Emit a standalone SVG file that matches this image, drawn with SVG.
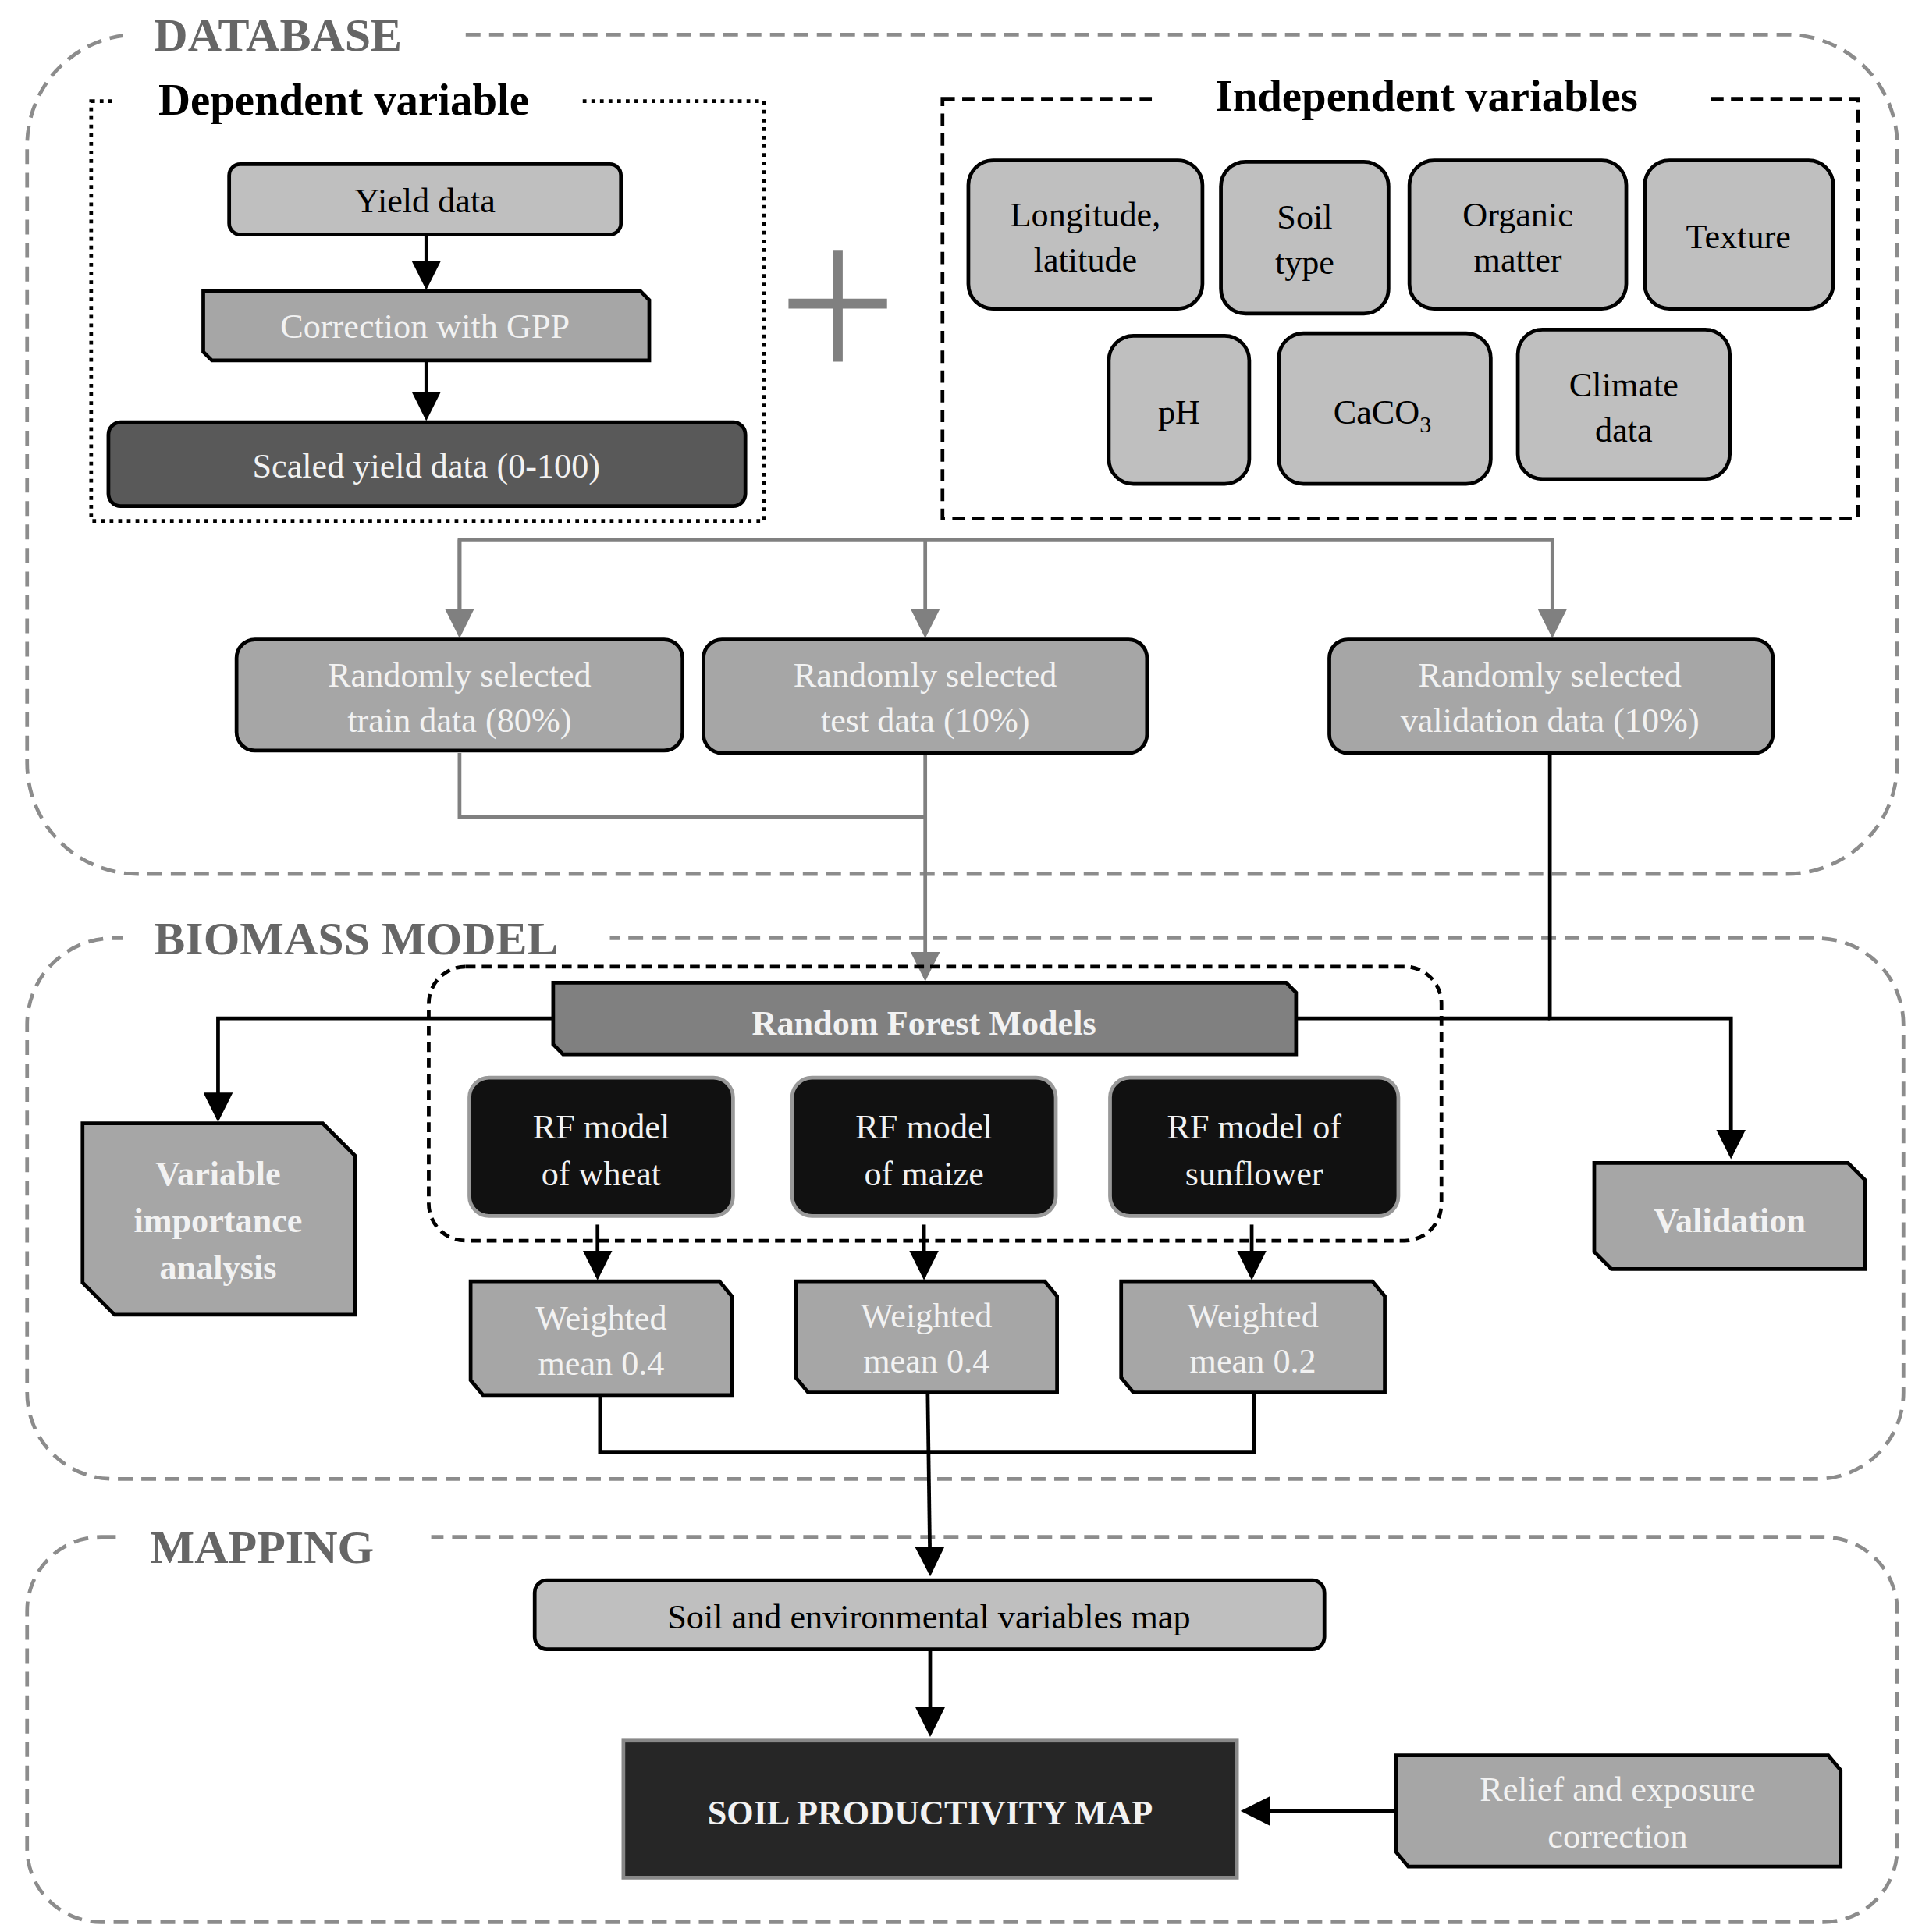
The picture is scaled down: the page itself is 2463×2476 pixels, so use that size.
<svg xmlns="http://www.w3.org/2000/svg" width="2463" height="2476" viewBox="0 0 2463 2476">
<defs>
<style>
text{font-family:"Liberation Serif",serif;text-anchor:middle}
.t{font-size:28px}
.w{fill:#f2f2f2}
.b{font-weight:bold}
.frame{fill:none;stroke:#8c8c8c;stroke-width:3;stroke-dasharray:12 7}
.ttl{font-size:38px;font-weight:bold;fill:#666;text-anchor:start}
.n{stroke:#000;stroke-width:3}
.lg{fill:#bfbfbf}.md{fill:#a6a6a6}
.gl{fill:none;stroke:#808080;stroke-width:3}
.bl{fill:none;stroke:#000;stroke-width:3}
</style>
<marker id="ag" markerWidth="8" markerHeight="8" refX="7" refY="4" orient="auto" markerUnits="strokeWidth"><path d="M0,0L8,4L0,8z" fill="#808080"/></marker>
<marker id="ab" markerWidth="8" markerHeight="8" refX="7" refY="4" orient="auto" markerUnits="strokeWidth"><path d="M0,0L8,4L0,8z" fill="#000"/></marker>
</defs>
<rect width="2463" height="2476" fill="#fff"/>
<g transform="scale(1.5788,1.5821)">
<g id="frames">
<rect class="frame" x="22" y="28" width="1518" height="680" rx="90"/>
<rect x="100" y="8" width="272" height="40" fill="#fff"/>
<text class="ttl" x="125" y="41">DATABASE</text>
<rect class="frame" x="22" y="760" width="1523" height="438" rx="70"/>
<rect x="100" y="740" width="395" height="40" fill="#fff"/>
<text class="ttl" x="125" y="773">BIOMASS MODEL</text>
<rect class="frame" x="22" y="1245" width="1518" height="312" rx="60"/>
<rect x="95" y="1225" width="255" height="40" fill="#fff"/>
<text class="ttl" x="122" y="1266">MAPPING</text>
</g>
<g id="dependent">
<rect x="74" y="82" width="546" height="340" fill="none" stroke="#000" stroke-width="3" stroke-dasharray="3 4"/>
<rect x="92" y="60" width="378" height="44" fill="#fff"/>
<text x="279" y="93" class="b" style="font-size:36px">Dependent variable</text>
</g>
<g id="independent">
<rect x="765" y="80" width="743" height="340" fill="none" stroke="#000" stroke-width="3" stroke-dasharray="10 6"/>
<rect x="935" y="58" width="450" height="44" fill="#fff"/>
<text x="1158" y="90" class="b" style="font-size:36px">Independent variables</text>
</g>
<g id="connectors">
<line class="bl" x1="346" y1="190" x2="346" y2="232" marker-end="url(#ab)"/>
<line class="bl" x1="346" y1="292" x2="346" y2="338" marker-end="url(#ab)"/>
<polyline class="gl" points="373,514 373,437 1260,437 1260,514" marker-end="url(#ag)"/>
<path class="gl" d="M373,437V514" marker-end="url(#ag)"/>
<line class="gl" x1="751" y1="437" x2="751" y2="514" marker-end="url(#ag)"/>
<polyline class="gl" points="373,610 373,662 751,662"/>
<line class="gl" x1="751" y1="610" x2="751" y2="792" marker-end="url(#ag)"/>
<polyline class="bl" points="1258,610 1258,825 1405,825 1405,936" marker-end="url(#ab)"/>
<polyline class="bl" points="449,825 177,825 177,906" marker-end="url(#ab)"/>
<line class="bl" x1="1052" y1="825" x2="1258" y2="825"/>
<line class="bl" x1="485" y1="992" x2="485" y2="1034" marker-end="url(#ab)"/>
<line class="bl" x1="750" y1="992" x2="750" y2="1034" marker-end="url(#ab)"/>
<line class="bl" x1="1016" y1="992" x2="1016" y2="1034" marker-end="url(#ab)"/>
<polyline class="bl" points="487,1130 487,1176 1018,1176 1018,1128"/>
<line class="bl" x1="753" y1="1128" x2="755" y2="1274" stroke-width="4" marker-end="url(#ab)"/>
<line class="bl" x1="755" y1="1336" x2="755" y2="1404" stroke-width="4" marker-end="url(#ab)"/>
<line class="bl" x1="1133" y1="1467" x2="1010" y2="1467" marker-end="url(#ab)"/>
</g>
<g id="plus" stroke="#808080" stroke-width="8"><line x1="640" y1="246" x2="720" y2="246"/><line x1="680" y1="203" x2="680" y2="293"/></g>
<g id="yield"><rect class="n lg" x="186" y="133" width="318" height="57" rx="9"/><text class="t" x="345" y="172">Yield data</text></g>
<g id="gpp"><path class="n md" d="M165,236H520L527,243V292H172L165,285Z"/><text class="t w" x="345" y="274">Correction with GPP</text></g>
<g id="scaled"><rect class="n" fill="#595959" x="88" y="342" width="517" height="68" rx="10"/><text class="t w" x="346" y="387">Scaled yield data (0-100)</text></g>
<g id="lonlat"><rect class="n lg" x="786" y="130" width="190" height="120" rx="20"/><text class="t" x="881" y="183">Longitude,</text><text class="t" x="881" y="220">latitude</text></g>
<g id="soiltype"><rect class="n lg" x="991" y="131" width="136" height="123" rx="20"/><text class="t" x="1059" y="185">Soil</text><text class="t" x="1059" y="222">type</text></g>
<g id="om"><rect class="n lg" x="1144" y="130" width="176" height="120" rx="20"/><text class="t" x="1232" y="183">Organic</text><text class="t" x="1232" y="220">matter</text></g>
<g id="texture"><rect class="n lg" x="1335" y="130" width="153" height="120" rx="20"/><text class="t" x="1411" y="201">Texture</text></g>
<g id="ph"><rect class="n lg" x="900" y="272" width="114" height="120" rx="20"/><text class="t" x="957" y="343">pH</text></g>
<g id="caco3"><rect class="n lg" x="1038" y="270" width="172" height="122" rx="20"/><text class="t" x="1122" y="343">CaCO<tspan font-size="19" dy="7">3</tspan></text></g>
<g id="climate"><rect class="n lg" x="1232" y="267" width="172" height="121" rx="20"/><text class="t" x="1318" y="321">Climate</text><text class="t" x="1318" y="358">data</text></g>
<g id="train"><rect class="n md" x="192" y="518" width="362" height="90" rx="15"/><text class="t w" x="373" y="556">Randomly selected</text><text class="t w" x="373" y="593">train data (80%)</text></g>
<g id="test"><rect class="n md" x="571" y="518" width="360" height="92" rx="15"/><text class="t w" x="751" y="556">Randomly selected</text><text class="t w" x="751" y="593">test data (10%)</text></g>
<g id="valdata"><rect class="n md" x="1079" y="518" width="360" height="92" rx="15"/><text class="t w" x="1258" y="556">Randomly selected</text><text class="t w" x="1258" y="593">validation data (10%)</text></g>
<g id="rfgroup"><rect x="348" y="783" width="822" height="222" rx="30" fill="none" stroke="#000" stroke-width="3" stroke-dasharray="8 5"/></g>
<g id="rfm"><path class="n" fill="#808080" d="M449,796H1044L1052,804V854H457L449,846Z"/><text class="t w b" x="750" y="838">Random Forest Models</text></g>
<g id="via"><path class="n md" d="M67,910H262L288,936V1065H93L67,1039Z"/><text class="t w b" x="177" y="960">Variable</text><text class="t w b" x="177" y="998">importance</text><text class="t w b" x="177" y="1036">analysis</text></g>
<g id="validation"><path class="n md" d="M1294,942H1500L1514,956V1028H1308L1294,1014Z"/><text class="t w b" x="1404" y="998">Validation</text></g>
<g id="rfw"><rect x="381" y="873" width="214" height="112" rx="16" fill="#111" stroke="#999" stroke-width="3"/><text class="t w" x="488" y="922">RF model</text><text class="t w" x="488" y="960">of wheat</text></g>
<g id="rfmz"><rect x="643" y="873" width="214" height="112" rx="16" fill="#111" stroke="#999" stroke-width="3"/><text class="t w" x="750" y="922">RF model</text><text class="t w" x="750" y="960">of maize</text></g>
<g id="rfs"><rect x="901" y="873" width="234" height="112" rx="16" fill="#111" stroke="#999" stroke-width="3"/><text class="t w" x="1018" y="922">RF model of</text><text class="t w" x="1018" y="960">sunflower</text></g>
<g id="wm1"><path class="n md" d="M382,1038H584L594,1050V1130H392L382,1118Z"/><text class="t w" x="488" y="1077">Weighted</text><text class="t w" x="488" y="1114">mean 0.4</text></g>
<g id="wm2"><path class="n md" d="M646,1038H848L858,1050V1128H656L646,1116Z"/><text class="t w" x="752" y="1075">Weighted</text><text class="t w" x="752" y="1112">mean 0.4</text></g>
<g id="wm3"><path class="n md" d="M910,1038H1114L1124,1050V1128H920L910,1116Z"/><text class="t w" x="1017" y="1075">Weighted</text><text class="t w" x="1017" y="1112">mean 0.2</text></g>
<g id="envmap"><rect class="n lg" x="434" y="1280" width="641" height="56" rx="10"/><text class="t" x="754" y="1319">Soil and environmental variables map</text></g>
<g id="spm"><rect x="506" y="1410" width="498" height="111" fill="#262626" stroke="#888" stroke-width="3"/><text class="t w b" x="755" y="1478">SOIL PRODUCTIVITY MAP</text></g>
<g id="relief"><path class="n md" d="M1133,1422H1484L1494,1434V1512H1143L1133,1500Z"/><text class="t w" x="1313" y="1459">Relief and exposure</text><text class="t w" x="1313" y="1497">correction</text></g>
</g>
</svg>
